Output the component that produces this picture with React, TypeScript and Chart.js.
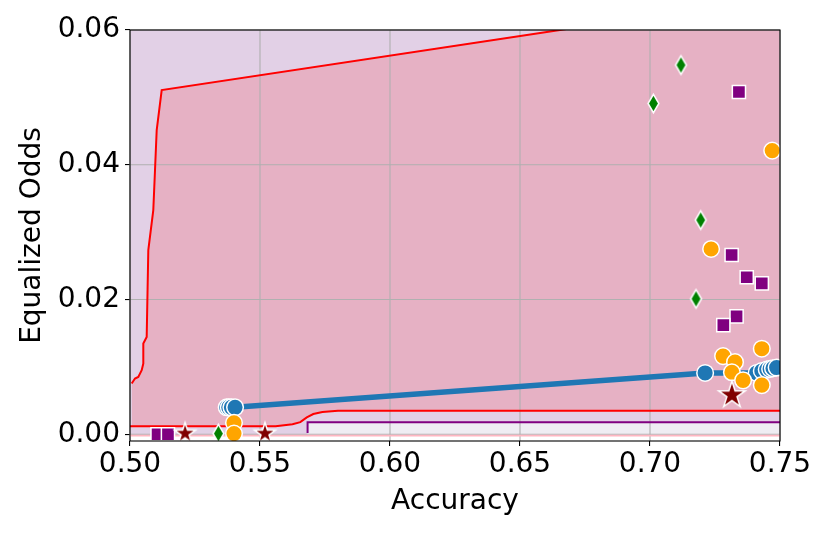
import React, { useEffect, useRef } from 'react';
import { Chart, registerables } from 'chart.js';
Chart.register(...registerables);

// ---- axis ticks ----
const xTicks = [0.5, 0.55, 0.6, 0.65, 0.7, 0.75];
const yTicks = [0, 0.02, 0.04, 0.06];

// ---- frontier curves ----
const upperRedX = [0.50065, 0.50192, 0.50319, 0.5045, 0.50512, 0.50512, 0.50577, 0.50642, 0.50704, 0.50896, 0.50962, 0.51027, 0.51219, 0.66538, 0.75];
const upperRedY = [0.00753, 0.00827, 0.00851, 0.00951, 0.0105, 0.01347, 0.01396, 0.01445, 0.02733, 0.03327, 0.03921, 0.04515, 0.05109, 0.06, 0.06492];
const lowerRedX = [0.5, 0.556, 0.5625, 0.5655, 0.568, 0.5705, 0.574, 0.58, 0.75];
const lowerRedY = [0.0012, 0.0012, 0.0015, 0.0018, 0.0025, 0.003, 0.0033, 0.0035, 0.0035];
const purpleFillX = [0.5, 0.5683, 0.5683, 0.75];
const purpleFillY = [-0.0002, -0.0002, 0.0018, 0.0018];
const purpleLineX = [0.5683, 0.5683, 0.75];
const purpleLineY = [0.0002, 0.0018, 0.0018];
const pinkX = [0.5, 0.75];
const pinkY = [-0.0002, -0.0002];

// ---- methods ----
const blueX = [0.5372, 0.538, 0.539, 0.5404, 0.7212, 0.741, 0.743, 0.7449, 0.7462, 0.7473, 0.7487];
const blueY = [0.004, 0.004, 0.004, 0.004, 0.0091, 0.0091, 0.0094, 0.0096, 0.0097, 0.0098, 0.0099];
const orangeX = [0.747, 0.7235, 0.7281, 0.7327, 0.743, 0.7315, 0.7358, 0.743, 0.54, 0.54];
const orangeY = [0.0421, 0.0275, 0.0116, 0.0107, 0.0127, 0.0092, 0.008, 0.0073, 0.0017, 0.0001];
const squareX = [0.7342, 0.7314, 0.7372, 0.743, 0.7333, 0.7282, 0.5106, 0.5146];
const squareY = [0.0508, 0.0266, 0.0233, 0.0224, 0.0175, 0.0162, 0.0, 0.0];
const diamondX = [0.7119, 0.7013, 0.7195, 0.7177, 0.534];
const diamondY = [0.0548, 0.0491, 0.0318, 0.0201, 0.0001];
const starX = [0.7315, 0.5212, 0.5519];
const starY = [0.0058, 0.0001, 0.0001];
const starSizes = [14, 11, 11];

const FONT = { family: 'DejaVu Sans', size: 28, lineHeight: 1.2 };
const GRID_INDEX = 2; // grid goes above the area fills, below the lines and markers

function pts(xs: number[], ys: number[]) {
  return xs.map((x, i) => ({ x, y: ys[i] }));
}

function starCanvas(R: number, fill: string) {
  const s = Math.ceil(2 * R + 6);
  const c = document.createElement('canvas');
  c.width = s; c.height = s;
  const g = c.getContext('2d')!;
  const cx = s / 2, cy = s / 2;
  g.beginPath();
  for (let i = 0; i < 10; i++) {
    const r = i % 2 === 0 ? R : R * 0.382;
    const a = -Math.PI / 2 + (i * Math.PI) / 5;
    g.lineTo(cx + r * Math.cos(a), cy + r * Math.sin(a));
  }
  g.closePath();
  g.fillStyle = fill; g.fill();
  g.strokeStyle = '#ffffff'; g.lineWidth = 1.5; g.lineJoin = 'miter'; g.stroke();
  return c;
}

function diamondCanvas(hw: number, hh: number, fill: string) {
  const w = Math.ceil(2 * hw + 6), h = Math.ceil(2 * hh + 6);
  const c = document.createElement('canvas');
  c.width = w; c.height = h;
  const g = c.getContext('2d')!;
  const cx = w / 2, cy = h / 2;
  g.beginPath();
  g.moveTo(cx, cy - hh); g.lineTo(cx + hw, cy); g.lineTo(cx, cy + hh); g.lineTo(cx - hw, cy);
  g.closePath();
  g.fillStyle = fill; g.fill();
  g.strokeStyle = '#ffffff'; g.lineWidth = 1.5; g.lineJoin = 'miter'; g.stroke();
  return c;
}

const framePlugin = {
  id: 'frame',
  beforeDatasetDraw(chart: any, args: any) {
    if (args.index !== GRID_INDEX) return;
    const { ctx, chartArea: a, scales } = chart;
    ctx.save();
    ctx.strokeStyle = '#b0b0b0';
    ctx.lineWidth = 1.1;
    ctx.beginPath();
    xTicks.forEach((v) => {
      const px = scales.x.getPixelForValue(v);
      ctx.moveTo(px, a.top); ctx.lineTo(px, a.bottom);
    });
    yTicks.forEach((v) => {
      const py = scales.y.getPixelForValue(v);
      ctx.moveTo(a.left, py); ctx.lineTo(a.right, py);
    });
    ctx.stroke();
    ctx.restore();
  },
  afterDraw(chart: any) {
    const { ctx, chartArea: a } = chart;
    ctx.save();
    ctx.strokeStyle = '#000';
    ctx.lineWidth = 1.1;
    ctx.strokeRect(a.left, a.top, a.right - a.left, a.bottom - a.top);
    ctx.restore();
  },
};

export default function App() {
  const ref = useRef<HTMLCanvasElement>(null);
  useEffect(() => {
    const canvas = ref.current!;
    const diamond = diamondCanvas(5.4, 9.2, '#008000');
    const stars = starSizes.map((r) => starCanvas(r, '#800000'));
    const common = { tension: 0, clip: 0, pointRadius: 0, pointHoverRadius: 0 };
    const ds: any[] = [
      { ...common, data: pts(pinkX, pinkY), borderWidth: 0, fill: 'end', backgroundColor: 'rgba(202,195,215,0.3)' },
      { ...common, data: pts(purpleFillX, purpleFillY), borderWidth: 0, fill: 'end', backgroundColor: 'rgba(128,0,128,0.12)' },
      { ...common, data: pts(upperRedX, upperRedY), borderColor: '#ff0000', borderWidth: 2, fill: { target: 3, above: 'rgba(255,0,0,0.15)', below: 'rgba(255,0,0,0.15)' } },
      { ...common, data: pts(lowerRedX, lowerRedY), borderColor: '#ff0000', borderWidth: 2, fill: false },
      { ...common, data: pts(pinkX, pinkY), borderColor: 'rgb(255,182,193)', borderWidth: 1.8, fill: false },
      { ...common, data: pts(purpleLineX, purpleLineY), borderColor: '#800080', borderWidth: 2, fill: false },
      { ...common, data: pts(blueX, blueY), borderColor: '#1f77b4', borderWidth: 5.5, fill: false, pointRadius: 8.3, pointStyle: 'circle', pointBackgroundColor: '#1f77b4', pointBorderColor: '#ffffff', pointBorderWidth: 1.5 },
      { ...common, data: pts(orangeX, orangeY), showLine: false, fill: false, pointRadius: 8.3, pointStyle: 'circle', pointBackgroundColor: '#ffa500', pointBorderColor: '#ffffff', pointBorderWidth: 1.5 },
      { ...common, data: pts(squareX, squareY), showLine: false, fill: false, pointRadius: 9.3, pointStyle: 'rect', pointBackgroundColor: '#800080', pointBorderColor: '#ffffff', pointBorderWidth: 1.5 },
      { ...common, data: pts(diamondX, diamondY), showLine: false, fill: false, pointRadius: 9, pointStyle: diamond },
      { ...common, data: pts(starX, starY), showLine: false, fill: false, pointRadius: 12, pointStyle: stars },
    ];
    ds.forEach((d, i) => { d.order = -i; });

    const gridCfg = { drawOnChartArea: false, color: '#b0b0b0', lineWidth: 1.1, tickColor: '#000', tickLength: 5, tickWidth: 1.1 };
    const chart = new Chart(canvas, {
      type: 'line',
      data: { datasets: ds },
      plugins: [framePlugin],
      options: {
        animation: false,
        responsive: false,
        devicePixelRatio: 1,
        events: [],
        layout: { padding: { top: 30, right: 50, bottom: 0, left: 0 } },
        plugins: { legend: { display: false }, tooltip: { enabled: false }, filler: { propagate: false } },
        scales: {
          x: {
            type: 'linear', min: 0.5, max: 0.75,
            afterBuildTicks: (s: any) => { s.ticks = xTicks.map((v) => ({ value: v })); },
            afterFit: (s: any) => { s.height = 93; },
            ticks: { callback: (v: any) => Number(v).toFixed(2), font: FONT, color: '#000', padding: 2, maxRotation: 0, autoSkip: false },
            grid: gridCfg,
            border: { display: false },
            title: { display: true, text: 'Accuracy', font: FONT, color: '#000', padding: { top: 0, bottom: 15 } },
          },
          y: {
            type: 'linear', min: -0.001, max: 0.06,
            afterBuildTicks: (s: any) => { s.ticks = yTicks.map((v) => ({ value: v })); },
            afterFit: (s: any) => { s.width = 130; },
            ticks: { callback: (v: any) => Number(v).toFixed(2), font: FONT, color: '#000', padding: 5, autoSkip: false },
            grid: gridCfg,
            border: { display: false },
            title: { display: true, text: 'Equalized Odds', font: FONT, color: '#000', padding: { top: 16, bottom: 0 } },
          },
        },
      } as any,
    });
    return () => chart.destroy();
  }, []);

  return (
    <div style={{ position: 'absolute', left: 0, top: 0, width: 830, height: 534, background: '#fff' }}>
      <canvas ref={ref} width={830} height={534} style={{ display: 'block', width: 830, height: 534 }} />
    </div>
  );
}
